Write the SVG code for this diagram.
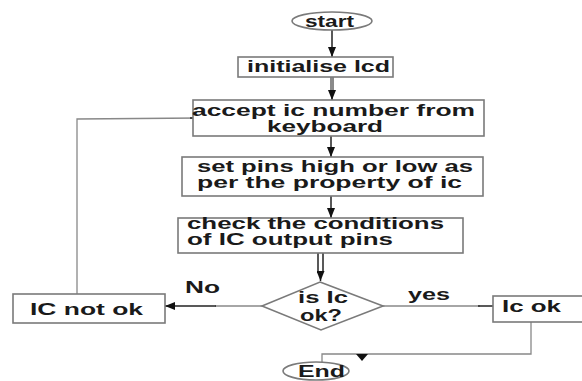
<svg xmlns="http://www.w3.org/2000/svg" width="582" height="381" viewBox="0 0 582 381">
<style>
.box{fill:#fff;stroke:#7a7a7a;stroke-width:1.6}
.t{font-family:"Liberation Sans",Arial,sans-serif;font-size:16px;font-weight:bold;fill:#1a1a1a}
.c{fill:none;stroke:#222;stroke-width:1.5}
.cg{fill:none;stroke:#888;stroke-width:1.3}
.thick{fill:none;stroke:#8a8a8a;stroke-width:4}
.head{fill:#111}
</style>
<defs>
<marker id="arr" markerWidth="10" markerHeight="8" refX="10" refY="4" orient="auto" markerUnits="userSpaceOnUse">
<path d="M0,0 L10,4 L0,8 Z" fill="#111"/>
</marker>
</defs>
<rect width="582" height="381" fill="#fff"/>
<g id="connectors">
<line class="c" x1="332" y1="30" x2="332" y2="57" marker-end="url(#arr)"/>
<line class="thick" x1="332" y1="77" x2="332" y2="95"/>
<line class="c" x1="332" y1="94" x2="332" y2="100" marker-end="url(#arr)"/>
<line class="c" x1="331" y1="136" x2="331" y2="157" marker-end="url(#arr)"/>
<line class="c" x1="331" y1="196" x2="331" y2="218" marker-end="url(#arr)"/>
<line class="c" x1="318" y1="253" x2="318" y2="272"/>
<line class="c" x1="323" y1="253" x2="323" y2="272"/>
<line class="c" x1="320.5" y1="271" x2="320.5" y2="281" marker-end="url(#arr)"/>
<polyline class="cg" points="262,306 215,306"/>
<line class="c" x1="216" y1="306" x2="165" y2="306" marker-end="url(#arr)"/>
<polyline class="cg" points="77,294 77,119 200,118"/>
<line class="c" x1="190" y1="118" x2="215" y2="118" marker-end="url(#arr)"/>
<line class="cg" x1="383" y1="306" x2="480" y2="306"/>
<line class="c" x1="478" y1="306" x2="541" y2="306" marker-end="url(#arr)"/>
<polyline class="cg" points="531,322 531,354 322,354 322,363"/>
<polygon class="head" points="356,354 368,354 362,361"/>
</g>
<g id="start">
<ellipse class="box" cx="332" cy="21" rx="40" ry="9"/>
<text class="t" x="305" y="27" textLength="49" lengthAdjust="spacingAndGlyphs">start</text>
</g>
<g id="init">
<rect class="box" x="238" y="57" width="155" height="20"/>
<text class="t" x="247" y="72" textLength="143" lengthAdjust="spacingAndGlyphs">initialise lcd</text>
</g>
<g id="accept">
<rect class="box" x="193" y="100" width="291" height="36"/>
<text class="t" x="192" y="115.5" textLength="283" lengthAdjust="spacingAndGlyphs">accept ic number from</text>
<text class="t" x="267" y="131.5" textLength="116" lengthAdjust="spacingAndGlyphs">keyboard</text>
</g>
<g id="setpins">
<rect class="box" x="182" y="157" width="301" height="39"/>
<text class="t" x="197" y="171.5" textLength="276" lengthAdjust="spacingAndGlyphs">set pins high or low as</text>
<text class="t" x="197" y="187.5" textLength="265" lengthAdjust="spacingAndGlyphs">per the property of ic</text>
</g>
<g id="check">
<rect class="box" x="178" y="218" width="285" height="35"/>
<text class="t" x="187" y="228.5" textLength="257" lengthAdjust="spacingAndGlyphs">check the conditions</text>
<text class="t" x="187" y="244.5" textLength="206" lengthAdjust="spacingAndGlyphs">of IC output pins</text>
</g>
<g id="decision">
<polygon class="box" points="320,282 383,306 321,330 262,306"/>
<text class="t" x="298" y="303" textLength="50" lengthAdjust="spacingAndGlyphs">is Ic</text>
<text class="t" x="300" y="321" textLength="42" lengthAdjust="spacingAndGlyphs">ok?</text>
</g>
<g id="notok">
<rect class="box" x="13" y="294" width="152" height="29"/>
<text class="t" x="30" y="315" textLength="113" lengthAdjust="spacingAndGlyphs">IC not ok</text>
</g>
<g id="ok">
<rect class="box" x="493" y="296" width="100" height="26"/>
<text class="t" x="502" y="312" textLength="59" lengthAdjust="spacingAndGlyphs">Ic ok</text>
</g>
<g id="end">
<ellipse class="box" cx="316" cy="371" rx="33" ry="9"/>
<text class="t" x="298" y="377" textLength="47" lengthAdjust="spacingAndGlyphs">End</text>
</g>
<g id="labels">
<text class="t" x="185" y="293" textLength="35" lengthAdjust="spacingAndGlyphs">No</text>
<text class="t" x="408" y="300" textLength="42" lengthAdjust="spacingAndGlyphs">yes</text>
</g>
</svg>
